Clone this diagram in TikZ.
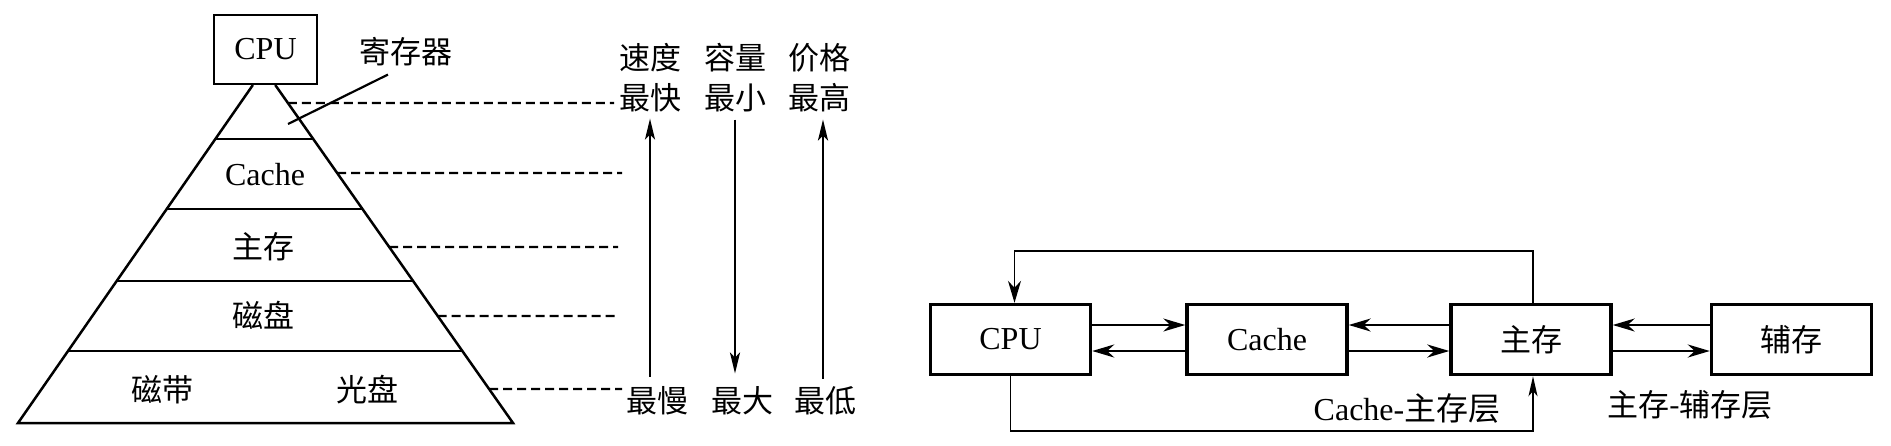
\documentclass[tikz,border=0pt]{standalone}
\usepackage{fontspec}
\setmainfont{Liberation Serif}
\newfontfamily\cjk{Noto Sans CJK SC}
\usetikzlibrary{arrows.meta,calc}
\begin{document}
\begin{tikzpicture}[x=1pt,y=-1pt,
  every node/.style={inner sep=0pt, font=\fontsize{32}{40}\selectfont},
  zhfont/.style={font=\cjk\fontsize{31}{40}\selectfont},
  pyrline/.style={line width=2.5pt, line join=miter},
  dashline/.style={line width=2.2pt, dash pattern=on 9pt off 5pt},
  arrowtip/.style={-{Stealth[length=22pt,width=13pt,inset=7pt]}},
  vline/.style={line width=2.5pt, -{Stealth[length=21pt,width=10pt,inset=5pt]}},
  memblock/.style={draw, line width=3.4pt, minimum width=160pt, minimum height=70pt},
  linkup/.style={line width=1.9pt, arrowtip},
  linkdown/.style={line width=2.7pt, arrowtip},
  loopline/.style={line width=1.9pt, arrowtip},
]
\fill[white] (0,0) rectangle (1891,445);
\useasboundingbox (0,0) rectangle (1891,445);

% ---------- pyramid ----------
\coordinate (A) at (264,69);
\coordinate (L) at (18,423);
\coordinate (R) at (513,423);
\node[draw, line width=2.2pt, minimum width=103pt, minimum height=69pt] (cpu0) at (265.5,49.5) {CPU};
\draw[pyrline] ($(A)!0.0452!(L)$) -- (L) -- (R) -- ($(A)!0.0452!(R)$);
\foreach \t in {0.1977,0.3955,0.5989,0.7966}
  \draw[pyrline] ($(A)!\t!(L)$) -- ($(A)!\t!(R)$);

\node (cachep) at (265,175) {Cache};
\node[zhfont] (mainp) at (263,247) {主存};
\node[zhfont] (diskp) at (263,315) {磁盘};
\node[zhfont] (tapep) at (162,390) {磁带};
\node[zhfont] (optp) at (367,390) {光盘};
\node[zhfont] (reg) at (406,52) {寄存器};
\coordinate (regpt) at (288,124);
\draw[line width=2.2pt] ($(reg.south)+(-18,8)$) -- (regpt);

% dashed leaders
\coordinate (e1) at (614,103);
\coordinate (e2) at (622,173);
\coordinate (e3) at (618,247);
\coordinate (e4) at (617,316);
\coordinate (e5) at (622,389);
\draw[dashline] ($(A)!0.096!(R)$) -- (e1);
\draw[dashline] ($(A)!0.2938!(R)$) -- (e2);
\draw[dashline] ($(A)!0.5028!(R)$) -- (e3);
\draw[dashline] ($(A)!0.6977!(R)$) -- (e4);
\draw[dashline] ($(A)!0.904!(R)$) -- (e5);

% columns
\node[zhfont, align=center] (speed) at (650,78) {速度\\最快};
\node[zhfont, align=center] (cap) at (735,78) {容量\\最小};
\node[zhfont, align=center] (price) at (819,78) {价格\\最高};
\node[zhfont] (slow) at (657,401) {最慢};
\node[zhfont] (big) at (742,401) {最大};
\node[zhfont] (low) at (825,401) {最低};
\draw[vline, shorten <=10pt, shorten >=6pt] (slow.north -| speed.south) -- (speed.south);
\draw[vline, shorten <=7pt, shorten >=13pt] (cap.south) -- (big.north -| cap.south);
\draw[vline, shorten <=8pt, shorten >=7pt] (low.north -| 823,0) -- (price.south -| 823,0);

% ---------- right diagram ----------
\node[memblock] (cpu) at (1010.5,339.5) {CPU};
\node[memblock] (cache) at (1267,339.5) {Cache};
\node[memblock, zhfont] (mem) at (1531,339.5) {主存};
\node[memblock, zhfont] (aux) at (1791.5,339.5) {辅存};

\coordinate (hu) at (0,325);
\coordinate (hl) at (0,351);
\coordinate (topy) at (0,251);
\coordinate (boty) at (0,431);

\draw[linkup] (cpu.east |- hu) -- (cache.west |- hu);
\draw[linkdown] (cache.west |- hl) -- (cpu.east |- hl);
\draw[linkup] (mem.west |- hu) -- (cache.east |- hu);
\draw[linkdown] (cache.east |- hl) -- (mem.west |- hl);
\draw[linkup] (aux.west |- hu) -- (mem.east |- hu);
\draw[linkdown] (mem.east |- hl) -- (aux.west |- hl);

\draw[loopline] ([xshift=2pt]mem.north) |- ([xshift=4pt]cpu.north |- topy) -- ([xshift=4pt]cpu.north);
\draw[loopline, -{Stealth[length=20pt,width=9pt,inset=5pt]}] (cpu.south) |- ([xshift=2pt]mem.south |- boty) -- ([xshift=2pt]mem.south);

\node (l1) at (1407,408) {Cache-{\cjk 主存层}};
\node[zhfont] (l2) at (1690,405) {主存-辅存层};
\end{tikzpicture}
\end{document}
